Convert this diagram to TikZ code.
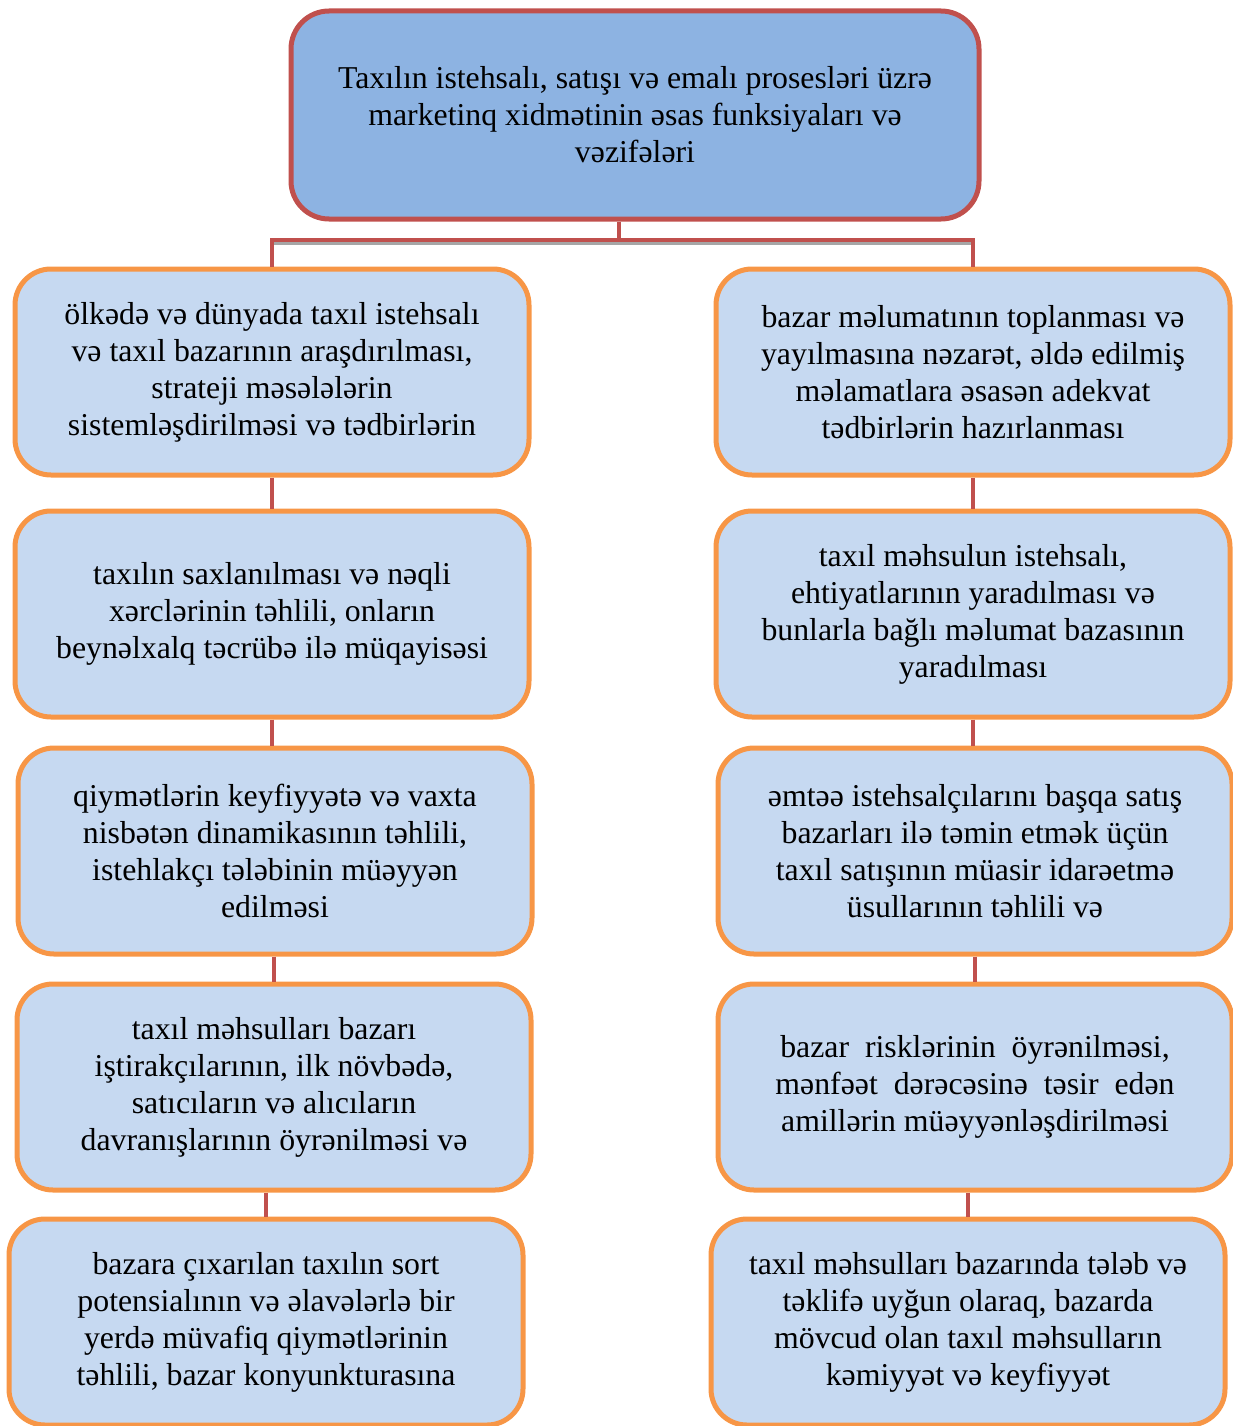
\documentclass[tikz,border=0pt]{standalone}
\usepackage{fontspec}
\setmainfont{Liberation Serif}
\usetikzlibrary{positioning, arrows.meta}

\definecolor{headfill}{HTML}{8DB3E2}
\definecolor{headline}{HTML}{C0504D}
\definecolor{taskfill}{HTML}{C6D9F1}
\definecolor{taskline}{HTML}{F79646}

\begin{document}
\begin{tikzpicture}[
    x=1pt,
    y=-1pt,
    font=\fontsize{31.8}{37}\selectfont,
    head/.style={
        rectangle,
        rounded corners=38pt,
        draw=headline,
        fill=headfill,
        line width=5pt,
        align=center,
        minimum width=688pt,
        minimum height=208pt
    },
    task/.style={
        rectangle,
        rounded corners=36pt,
        draw=taskline,
        fill=taskfill,
        line width=5pt,
        align=center,
        minimum width=514pt,
        minimum height=206pt
    },
    link/.style={draw=headline, line width=4.5pt}
]

\useasboundingbox (0,0) rectangle (1232,1426);

% Main box
\node[head] (top) at (635,115) {Taxılın istehsalı, satışı və emalı prosesləri üzrə\\marketinq xidmətinin əsas funksiyaları və\\vəzifələri};

% Left column
\node[task] (l1) at (272,372) {ölkədə və dünyada taxıl istehsalı\\və taxıl bazarının araşdırılması,\\strateji məsələlərin\\sistemləşdirilməsi və tədbirlərin};
\node[task] (l2) at (272,614) {taxılın saxlanılması və nəqli\\xərclərinin təhlili, onların\\beynəlxalq təcrübə ilə müqayisəsi};
\node[task] (l3) at (275,851) {qiymətlərin keyfiyyətə və vaxta\\nisbətən dinamikasının təhlili,\\istehlakçı tələbinin müəyyən\\edilməsi};
\node[task] (l4) at (274,1087) {taxıl məhsulları bazarı\\iştirakçılarının, ilk növbədə,\\satıcıların və alıcıların\\davranışlarının öyrənilməsi və};
\node[task] (l5) at (266,1322) {bazara çıxarılan taxılın sort\\potensialının və əlavələrlə bir\\yerdə müvafiq qiymətlərinin\\təhlili, bazar konyunkturasına};

% Right column
\node[task] (r1) at (973,372) {bazar məlumatının toplanması və\\yayılmasına nəzarət, əldə edilmiş\\məlamatlara əsasən adekvat\\tədbirlərin hazırlanması};
\node[task] (r2) at (973,614) {taxıl məhsulun istehsalı,\\ehtiyatlarının yaradılması və\\bunlarla bağlı məlumat bazasının\\yaradılması};
\node[task] (r3) at (975,851) {əmtəə istehsalçılarını başqa satış\\bazarları ilə təmin etmək üçün\\taxıl satışının müasir idarəetmə\\üsullarının təhlili və};
\node[task] (r4) at (975,1087) {bazar\ \ risklərinin\ \ öyrənilməsi,\\mənfəət\ \ dərəcəsinə\ \ təsir\ \ edən\\amillərin müəyyənləşdirilməsi};
\node[task] (r5) at (968,1322) {taxıl məhsulları bazarında tələb və\\təklifə uyğun olaraq, bazarda\\mövcud olan taxıl məhsulların\\kəmiyyət və keyfiyyət};

% Branch from main box
\coordinate (bus) at (619,240);
\draw[gray!70, line width=3pt] ([yshift=-3pt]l1.north |- bus) -- ([yshift=-3pt]r1.north |- bus);
\draw[link] (top.south -| bus) -- (bus);
\draw[link] (l1.north) |- (bus) -| (r1.north);

% Left chain
\draw[link] (l1.south) -- (l1.south |- l2.north);
\draw[link] (l2.south) -- (l2.south |- l3.north);
\draw[link] (l3.south -| l4.north) -- (l4.north);
\draw[link] (l4.south -| l5.north) -- (l5.north);

% Right chain
\draw[link] (r1.south) -- (r1.south |- r2.north);
\draw[link] (r2.south) -- (r2.south |- r3.north);
\draw[link] (r3.south) -- (r3.south |- r4.north);
\draw[link] (r4.south -| r5.north) -- (r5.north);

\end{tikzpicture}
\end{document}
